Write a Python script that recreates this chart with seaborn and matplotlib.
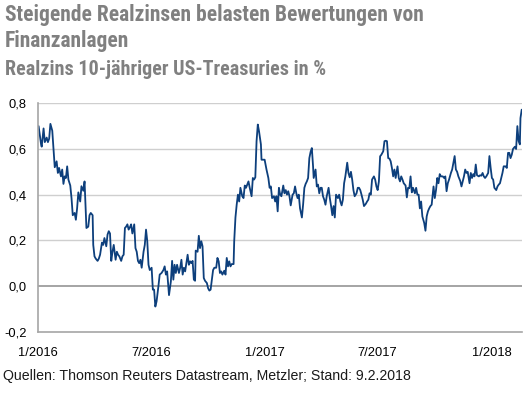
import matplotlib
matplotlib.use("Agg")
import matplotlib.pyplot as plt
import seaborn as sns
import pandas as pd
import numpy as np
from matplotlib import font_manager

# ---- data ----
start_date = "2016-01-01"
day_offsets = [
    1, 5, 6, 9, 11, 14, 16, 18, 20, 23, 25, 27, 30, 32, 34, 37, 39, 41, 43, 45, 47, 49,
    52, 54, 56, 59, 61, 63, 65, 68, 70, 73, 75, 77, 78, 81, 83, 85, 88, 89, 91, 93, 96,
    98, 100, 103, 105, 107, 110, 112, 114, 116, 118, 120, 122, 125, 127, 129, 131, 134,
    136, 138, 140, 142, 144, 146, 148, 150, 152, 155, 157, 159, 161, 163, 165, 167, 170,
    172, 174, 176, 178, 180, 183, 185, 187, 189,
    191, 194, 196, 199, 202, 204, 206, 208, 211, 214, 216, 218, 220, 222, 224, 227, 229,
    231, 233, 235, 237, 239, 241, 243, 245, 247, 249, 251, 253, 254, 257, 259, 261, 263,
    265, 267, 269, 272, 274, 276, 278, 280, 282, 284, 287, 289, 291, 293, 295, 297, 300,
    302, 304, 306, 308, 310, 312, 315, 316, 318, 320, 322, 324, 326, 329, 331, 333, 335,
    337, 339, 341, 344, 346, 348, 350, 352, 354, 356, 359, 360, 363, 365,
    368, 371, 373, 375, 377, 380, 382, 384, 386, 388, 390, 392, 395, 397, 399, 401, 403,
    405, 407, 410, 412, 414, 416, 418, 420, 422, 425, 427, 429, 431, 433, 435, 437, 439,
    441, 443, 444, 447, 449, 451, 453, 455, 457, 459, 461, 463, 465, 468, 470, 472, 474,
    476, 478, 480, 483, 485, 487, 489, 491, 493, 495, 498, 500, 502, 504, 506, 508, 510,
    513, 515, 517, 519, 521, 523, 525, 528, 530, 532, 534, 536, 538, 541, 543, 545, 547,
    549, 551, 553, 556, 558, 560, 562, 564, 566, 568, 570, 572, 574,
    576, 579, 581, 583, 585, 587, 589, 592, 594, 596, 598, 600, 602, 604, 607, 609, 611,
    613, 615, 617, 619, 622, 624, 626, 628, 630, 632, 634, 637, 639, 641, 643, 645, 647,
    649, 652, 654, 656, 658, 660, 662, 665, 667, 669, 671, 673, 675, 677, 680, 682, 684,
    686, 688, 690, 692, 695, 697, 699, 701, 703, 705, 707, 710, 712, 714, 716, 718, 720,
    722, 725, 727, 729, 731, 733, 735, 738, 740, 742, 744, 746, 748, 750, 753, 755, 757,
    759, 761, 763, 765, 768, 770, 772, 774, 776, 777, 779,
]
real_yield = [
    0.70, 0.62, 0.61, 0.69, 0.63, 0.65, 0.63, 0.645, 0.71, 0.68, 0.60, 0.52, 0.546, 0.495,
    0.517, 0.48, 0.51, 0.447, 0.48, 0.473, 0.524, 0.466,
    0.44, 0.385, 0.31, 0.32, 0.29, 0.34, 0.41, 0.37, 0.437, 0.417, 0.458, 0.32, 0.254,
    0.26, 0.31, 0.32, 0.31, 0.18, 0.13, 0.12, 0.11,
    0.12, 0.137, 0.19, 0.18, 0.21, 0.174, 0.225, 0.24, 0.23, 0.11, 0.15, 0.18, 0.115,
    0.15, 0.137, 0.13, 0.11,
    0.13, 0.137, 0.254, 0.26, 0.27, 0.247, 0.257, 0.27, 0.23, 0.27, 0.166, 0.15, 0.11,
    0.10, 0.115, 0.08, 0.15,
    0.18, 0.247, 0.196, 0.093, 0.07, 0.08, -0.016, -0.016, -0.09,
    -0.067, 0.0, 0.05, 0.057, 0.07, 0.086, 0.05, 0.064, -0.04, 0.02, 0.11, 0.028, 0.093,
    0.057, 0.093, 0.057, 0.08,
    0.115, 0.05, 0.08, 0.064, 0.10, 0.137, 0.093, 0.108, 0.10, 0.11, 0.028, 0.023, 0.155,
    0.15, 0.22, 0.166, 0.196,
    0.174, 0.035, 0.023, 0.013, -0.01, -0.02, -0.016, 0.028, 0.07, 0.08, 0.08, 0.123,
    0.108, 0.057, 0.064, 0.05, 0.067,
    0.05, 0.123, 0.086, 0.108, 0.086, 0.096, 0.096, 0.196, 0.30, 0.356, 0.40, 0.37, 0.43,
    0.393, 0.385, 0.44, 0.43,
    0.444, 0.458, 0.43, 0.393, 0.473, 0.466, 0.476, 0.634, 0.707, 0.677, 0.62, 0.553,
    0.553, 0.553,
    0.51, 0.473, 0.43, 0.436, 0.385, 0.393, 0.37, 0.393, 0.327, 0.43, 0.40, 0.393, 0.44,
    0.406, 0.42, 0.40, 0.415,
    0.393, 0.353, 0.40, 0.406, 0.436, 0.406, 0.385, 0.40, 0.34, 0.30, 0.358, 0.43, 0.447,
    0.458, 0.473, 0.56, 0.587,
    0.604, 0.524, 0.473, 0.51, 0.436, 0.444, 0.406, 0.43, 0.43, 0.393, 0.378, 0.356,
    0.393, 0.43, 0.385, 0.35, 0.31,
    0.35, 0.30, 0.40, 0.385, 0.40, 0.37, 0.353, 0.378, 0.45, 0.48, 0.54, 0.495, 0.476,
    0.50, 0.466, 0.42, 0.393,
    0.406, 0.43, 0.43, 0.42, 0.40, 0.378, 0.35, 0.36, 0.37, 0.378, 0.406, 0.40, 0.466,
    0.48, 0.466, 0.436, 0.42,
    0.458, 0.568, 0.575, 0.59, 0.634, 0.636, 0.634, 0.56, 0.558, 0.546, 0.517, 0.48, 0.51,
    0.473, 0.524, 0.473, 0.458, 0.48, 0.466, 0.45, 0.44, 0.388, 0.43, 0.428, 0.48, 0.41,
    0.43, 0.406, 0.43, 0.40,
    0.40, 0.34, 0.37, 0.305, 0.276, 0.242, 0.305, 0.327, 0.34, 0.35, 0.356, 0.436, 0.385,
    0.42, 0.473, 0.45, 0.49,
    0.48, 0.48, 0.473, 0.48, 0.415, 0.45, 0.466, 0.495, 0.51, 0.54, 0.569, 0.51, 0.50,
    0.48, 0.46, 0.436, 0.458,
    0.48, 0.51, 0.495, 0.50, 0.45, 0.495, 0.473, 0.49, 0.48, 0.532, 0.485, 0.48, 0.485,
    0.483, 0.495, 0.48, 0.473,
    0.48, 0.495, 0.569, 0.517, 0.473, 0.466, 0.43, 0.42, 0.436, 0.444, 0.45, 0.473, 0.495,
    0.524, 0.524, 0.517, 0.583,
    0.583, 0.56, 0.575, 0.60, 0.61, 0.60, 0.70, 0.635, 0.62, 0.735, 0.772,
]
tick_dates = ["2016-01-01", "2016-07-01", "2017-01-01", "2017-07-01", "2018-01-01"]
tick_labels = ["1/2016", "7/2016", "1/2017", "7/2017", "1/2018"]
y_ticks = [-0.2, 0.0, 0.2, 0.4, 0.6, 0.8]
y_labels = ["-0,2", "0,0", "0,2", "0,4", "0,6", "0,8"]

title_lines = ["Steigende Realzinsen belasten Bewertungen von", "Finanzanlagen"]
subtitle = "Realzins 10-jähriger US-Treasuries in %"
source = "Quellen: Thomson Reuters Datastream, Metzler; Stand: 9.2.2018"

# ---- build frame ----
t0 = pd.Timestamp(start_date)
df = pd.DataFrame({
    "date": t0 + pd.to_timedelta(day_offsets, unit="D"),
    "value": real_yield,
})

sns.set_theme(style="white")
plt.rcParams["font.family"] = ["Liberation Sans", "DejaVu Sans"]

installed = {f.name for f in font_manager.fontManager.ttflist}
title_font = [f for f in ["Roboto Condensed", "Liberation Sans Narrow",
                          "DejaVu Sans Condensed", "Liberation Sans"] if f in installed]
narrow = title_font[0] != "Liberation Sans"
t_size = 15.5 if narrow else 13.5
s_size = 14.5 if narrow else 12.5

fig = plt.figure(figsize=(5.29, 3.97), dpi=100)
ax = fig.add_axes([0.0718, 0.1645, 0.9150, 0.5753])

sns.lineplot(data=df, x="date", y="value", ax=ax, color="#0d3f7c", linewidth=1.3)

ax.set_xlim(t0, t0 + pd.Timedelta(days=779.5))
ax.set_ylim(-0.2, 0.8)

# grid lines
for yv in [0.2, 0.4, 0.6, 0.8]:
    ax.axhline(yv, color="#cfcfcf", linewidth=1.0, zorder=0)
ax.axhline(0.0, color="#8c8c8c", linewidth=1.1, zorder=1)

for side in ["top", "right"]:
    ax.spines[side].set_visible(False)
for side in ["left", "bottom"]:
    ax.spines[side].set_color("#a6a6a6")
    ax.spines[side].set_linewidth(1.2)

ax.set_xticks(pd.to_datetime(tick_dates))
ax.set_xticklabels(tick_labels)
ax.set_yticks(y_ticks)
ax.set_yticklabels(y_labels)
ax.tick_params(axis="both", length=0, labelsize=9.3, colors="#000000")
ax.tick_params(axis="x", pad=11)
ax.tick_params(axis="y", pad=8)
ax.set_xlabel("")
ax.set_ylabel("")

fig.text(5 / 529, 1 - 21 / 397, title_lines[0], family=title_font, fontweight="bold",
         fontsize=t_size, color="#808080", va="baseline", ha="left")
fig.text(5 / 529, 1 - 47 / 397, title_lines[1], family=title_font, fontweight="bold",
         fontsize=t_size, color="#808080", va="baseline", ha="left")
fig.text(5 / 529, 1 - 75 / 397, subtitle, family=title_font, fontweight="bold",
         fontsize=s_size, color="#808080", va="baseline", ha="left")
fig.text(3 / 529, 1 - 380 / 397, source, fontsize=10.2, color="#1a1a1a",
         va="baseline", ha="left")

fig.savefig("out.png", dpi=100)
